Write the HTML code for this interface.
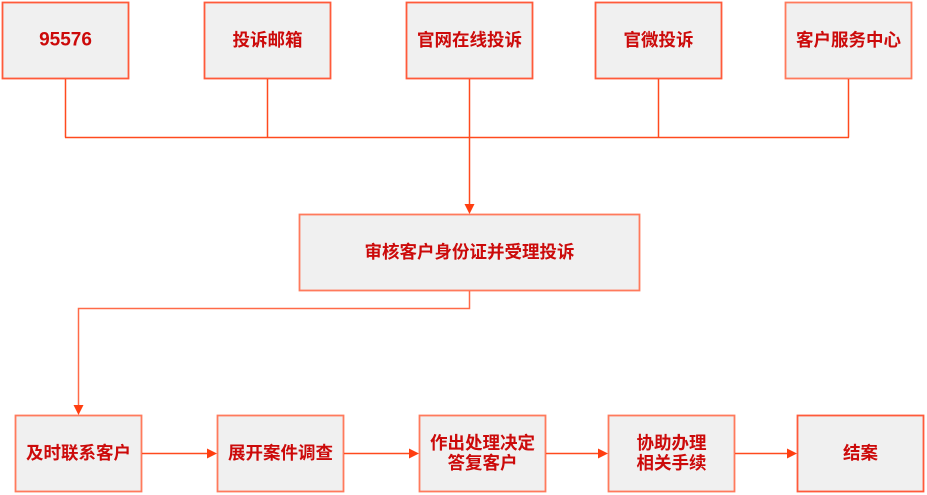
<!DOCTYPE html>
<html>
<head>
<meta charset="utf-8">
<style>
  html, body { margin:0; padding:0; background:#ffffff; }
  body { width:927px; height:495px; overflow:hidden; }
  svg { display:block; }
  text { font-family: "Liberation Sans", "Noto Sans CJK SC", sans-serif; font-weight:bold; fill:#cc0a0a; }
</style>
</head>
<body>
<svg width="927" height="495" viewBox="0 0 927 495" xmlns="http://www.w3.org/2000/svg">
  <g fill="#f0f0f0" stroke="#ff5a3a" stroke-width="1.8">
    <!-- top row -->
    <rect x="2.5" y="2.5" width="126" height="76"/>
    <rect x="204.5" y="2.5" width="126" height="76"/>
    <rect x="406.5" y="2.5" width="126" height="76"/>
    <rect x="595.5" y="2.5" width="126" height="76"/>
    <rect x="785.5" y="2.5" width="126" height="76" stroke="#ff7a5c"/>
    <!-- center -->
    <rect x="299.5" y="214.5" width="340" height="76" stroke="#ff7a5c"/>
    <!-- bottom row -->
    <rect x="15.5" y="415.5" width="126" height="76" stroke="#ff7a5c"/>
    <rect x="217.5" y="415.5" width="126" height="76" stroke="#ff7a5c"/>
    <rect x="419.5" y="415.5" width="126" height="76" stroke="#ff7a5c"/>
    <rect x="608.5" y="415.5" width="126" height="76" stroke="#ff7a5c"/>
    <rect x="797.5" y="415.5" width="126" height="76" stroke="#ff5a3a"/>
  </g>

  <g stroke="#ff4a1e" stroke-width="1.5" fill="none">
    <line x1="65.5" y1="79" x2="65.5" y2="137.5"/>
    <line x1="267.5" y1="79" x2="267.5" y2="137.5"/>
    <line x1="469.5" y1="79" x2="469.5" y2="205"/>
    <line x1="658.5" y1="79" x2="658.5" y2="137.5"/>
    <line x1="848.5" y1="79" x2="848.5" y2="137.5"/>
    <line x1="65" y1="137.5" x2="849" y2="137.5"/>
    <polyline points="469.5,291 469.5,308.5 78.5,308.5 78.5,406" stroke="#ff6a48"/>
    <line x1="142" y1="453.5" x2="208" y2="453.5"/>
    <line x1="344" y1="453.5" x2="410" y2="453.5"/>
    <line x1="546" y1="453.5" x2="599" y2="453.5"/>
    <line x1="735" y1="453.5" x2="788" y2="453.5"/>
  </g>

  <g fill="#ff3e10">
    <polygon points="464.5,204 474.5,204 469.5,214"/>
    <polygon points="73.5,405 83.5,405 78.5,415"/>
    <polygon points="207,448.5 207,458.5 217,453.5"/>
    <polygon points="409,448.5 409,458.5 419,453.5"/>
    <polygon points="598,448.5 598,458.5 608,453.5"/>
    <polygon points="787,448.5 787,458.5 797,453.5"/>
  </g>

  <g text-anchor="middle" dominant-baseline="central" font-size="17.5">
    <text x="65.5" y="40" font-size="19">95576</text>
    <text x="267.5" y="40">投诉邮箱</text>
    <text x="469.5" y="40">官网在线投诉</text>
    <text x="658.5" y="40">官微投诉</text>
    <text x="848.5" y="40">客户服务中心</text>
    <text x="469.5" y="252">审核客户身份证并受理投诉</text>
    <text x="78.5" y="453">及时联系客户</text>
    <text x="280.5" y="453">展开案件调查</text>
    <text x="482.5" y="443">作出处理决定</text>
    <text x="482.5" y="463">答复客户</text>
    <text x="671.5" y="443">协助办理</text>
    <text x="671.5" y="463">相关手续</text>
    <text x="860.5" y="453">结案</text>
  </g>
</svg>
</body>
</html>
